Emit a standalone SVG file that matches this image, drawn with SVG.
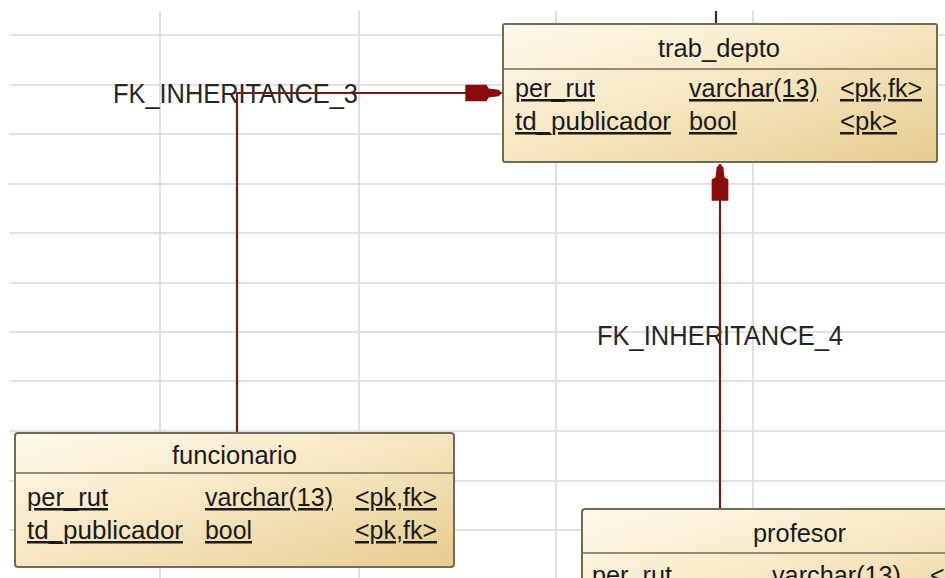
<svg xmlns="http://www.w3.org/2000/svg" width="945" height="578" viewBox="0 0 945 578">
<style>
.grid line{stroke:#d9d9d9;stroke-width:1.6}
.box{fill:url(#tan);stroke:#6f6b57;stroke-width:2}
.sep{stroke:#6f6b57;stroke-width:1.6}
.t{font-family:"Liberation Sans",Arial,sans-serif;font-size:25px;fill:#1a1a1a}
.u{text-decoration:underline}
.lbl{font-family:"Liberation Sans",Arial,sans-serif;font-size:28px;fill:#262626}
.conn{stroke:#6e1c1c;stroke-width:2.2;fill:none}
</style>
<defs>
<linearGradient id="tan" x1="0" y1="0" x2="1" y2="1">
<stop offset="0" stop-color="#fffaee"/>
<stop offset="0.45" stop-color="#f7e8c4"/>
<stop offset="1" stop-color="#e6cc8f"/>
</linearGradient>
<marker id="arr" markerUnits="userSpaceOnUse" markerWidth="40" markerHeight="20" viewBox="-34 -9 36 18" refX="0" refY="0" orient="auto">
<path d="M-33,-7.5 L-14,-7.5 L-12,-4 L-3,-3 L0,0 L-3,3 L-12,4 L-14,7.5 L-33,7.5 Z" fill="#8a0b0b"/>
</marker>
</defs>
<rect width="945" height="578" fill="#ffffff"/>
<g class="grid">
<line x1="9" y1="35" x2="945" y2="35"/>
<line x1="9" y1="85" x2="945" y2="85"/>
<line x1="9" y1="134" x2="945" y2="134"/>
<line x1="9" y1="184" x2="945" y2="184"/>
<line x1="9" y1="233" x2="945" y2="233"/>
<line x1="9" y1="283" x2="945" y2="283"/>
<line x1="9" y1="332" x2="945" y2="332"/>
<line x1="9" y1="381" x2="945" y2="381"/>
<line x1="9" y1="431" x2="945" y2="431"/>
<line x1="9" y1="481" x2="945" y2="481"/>
<line x1="9" y1="530" x2="945" y2="530"/>
<line x1="160" y1="11" x2="160" y2="578"/>
<line x1="359" y1="11" x2="359" y2="578"/>
<line x1="556" y1="11" x2="556" y2="578"/>
<line x1="753" y1="11" x2="753" y2="578"/>
</g>
<g id="connectors">
<line x1="716" y1="11" x2="716" y2="24" stroke="#3a2a2a" stroke-width="2.2"/>
<text class="lbl" x="113" y="103" textLength="245" lengthAdjust="spacingAndGlyphs">FK_INHERITANCE_3</text>
<polyline class="conn" points="237,433 237,93 502,93" marker-end="url(#arr)"/>
<text class="lbl" x="597" y="345" textLength="246" lengthAdjust="spacingAndGlyphs">FK_INHERITANCE_4</text>
<polyline class="conn" points="720,509 720,164" marker-end="url(#arr)"/>
</g>
<g id="trab_depto">
<rect class="box" x="503" y="24" width="434" height="138" rx="2"/>
<line class="sep" x1="503" y1="69" x2="937" y2="69"/>
<text class="t" x="658" y="57" textLength="122" lengthAdjust="spacingAndGlyphs">trab_depto</text>
<text class="t u" x="515" y="97" textLength="80" lengthAdjust="spacingAndGlyphs">per_rut</text>
<text class="t u" x="689" y="97" textLength="129" lengthAdjust="spacingAndGlyphs">varchar(13)</text>
<text class="t u" x="840" y="97" textLength="82" lengthAdjust="spacingAndGlyphs">&lt;pk,fk&gt;</text>
<text class="t u" x="515" y="130" textLength="156" lengthAdjust="spacingAndGlyphs">td_publicador</text>
<text class="t u" x="689" y="130" textLength="48" lengthAdjust="spacingAndGlyphs">bool</text>
<text class="t u" x="840" y="130" textLength="57" lengthAdjust="spacingAndGlyphs">&lt;pk&gt;</text>
</g>
<g id="funcionario">
<rect class="box" x="15" y="433" width="439" height="134" rx="3"/>
<line class="sep" x1="15" y1="473" x2="454" y2="473"/>
<text class="t" x="172" y="464" textLength="125" lengthAdjust="spacingAndGlyphs">funcionario</text>
<text class="t u" x="27" y="506" textLength="81" lengthAdjust="spacingAndGlyphs">per_rut</text>
<text class="t u" x="205" y="506" textLength="128" lengthAdjust="spacingAndGlyphs">varchar(13)</text>
<text class="t u" x="355" y="506" textLength="82" lengthAdjust="spacingAndGlyphs">&lt;pk,fk&gt;</text>
<text class="t u" x="27" y="539" textLength="156" lengthAdjust="spacingAndGlyphs">td_publicador</text>
<text class="t u" x="205" y="539" textLength="47" lengthAdjust="spacingAndGlyphs">bool</text>
<text class="t u" x="355" y="539" textLength="82" lengthAdjust="spacingAndGlyphs">&lt;pk,fk&gt;</text>
</g>
<g id="profesor">
<rect class="box" x="582" y="509" width="440" height="134" rx="3"/>
<line class="sep" x1="582" y1="553" x2="1022" y2="553"/>
<text class="t" x="753" y="542" textLength="93" lengthAdjust="spacingAndGlyphs">profesor</text>
<text class="t u" x="592" y="584" textLength="80" lengthAdjust="spacingAndGlyphs">per_rut</text>
<text class="t u" x="772" y="584" textLength="129" lengthAdjust="spacingAndGlyphs">varchar(13)</text>
<text class="t u" x="930" y="584" textLength="82" lengthAdjust="spacingAndGlyphs">&lt;pk,fk&gt;</text>
</g>
</svg>
